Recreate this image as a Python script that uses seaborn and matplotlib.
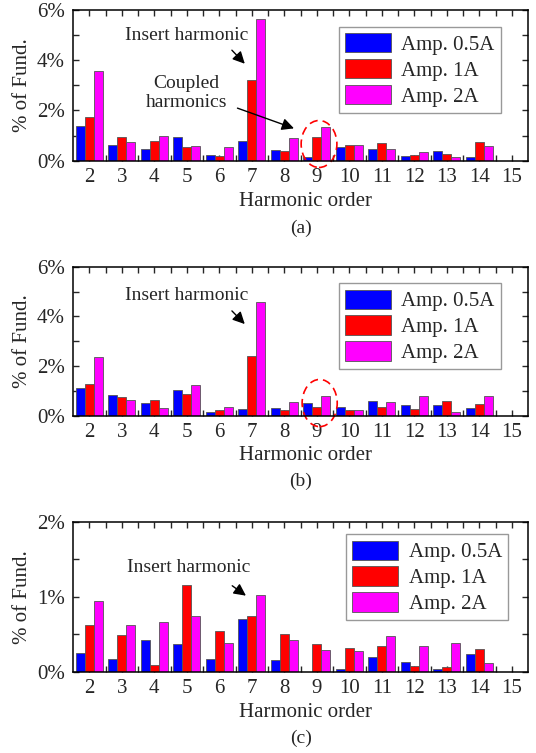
import numpy as np
import pandas as pd
import matplotlib
matplotlib.use('Agg')
import matplotlib.pyplot as plt
from matplotlib.ticker import MultipleLocator, FixedLocator, FuncFormatter
from matplotlib.patches import Ellipse
import seaborn as sns

# harmonic orders shown on the x axis (15 has no bars)
orders = ['2', '3', '4', '5', '6', '7', '8', '9', '10', '11', '12', '13', '14', '15']
harmonics = ['2', '3', '4', '5', '6', '7', '8', '9', '10', '11', '12', '13', '14']
amps = ['Amp. 0.5A', 'Amp. 1A', 'Amp. 2A']
colors = ['#0000ff', '#ff0000', '#ff00ff']

# (a)
a_05 = [1.38, 0.61, 0.48, 0.93, 0.21, 0.80, 0.44, 0.15, 0.56, 0.45, 0.20, 0.40, 0.15]
a_1 = [1.73, 0.94, 0.77, 0.56, 0.17, 3.20, 0.39, 0.94, 0.61, 0.72, 0.23, 0.27, 0.76]
a_2 = [3.57, 0.73, 0.97, 0.60, 0.55, 5.63, 0.92, 1.34, 0.61, 0.45, 0.36, 0.13, 0.60]
# (b)
b_05 = [1.10, 0.82, 0.52, 1.05, 0.15, 0.28, 0.31, 0.50, 0.34, 0.58, 0.44, 0.44, 0.30]
b_1 = [1.26, 0.75, 0.64, 0.89, 0.23, 2.39, 0.23, 0.36, 0.21, 0.35, 0.27, 0.59, 0.46]
b_2 = [2.36, 0.64, 0.31, 1.23, 0.36, 4.59, 0.55, 0.79, 0.23, 0.54, 0.79, 0.15, 0.79]
# (c)
c_05 = [0.25, 0.17, 0.42, 0.37, 0.17, 0.70, 0.16, 0.00, 0.04, 0.19, 0.13, 0.03, 0.24]
c_1 = [0.63, 0.49, 0.09, 1.16, 0.54, 0.74, 0.50, 0.37, 0.32, 0.34, 0.08, 0.06, 0.30]
c_2 = [0.95, 0.62, 0.67, 0.75, 0.39, 1.02, 0.42, 0.29, 0.27, 0.48, 0.34, 0.38, 0.11]

sns.set_style('ticks')
plt.rcParams['font.family'] = ['Liberation Serif', 'DejaVu Serif']
plt.rcParams['font.size'] = 15


def make_df(v05, v1, v2):
    rows = []
    for amp, vals in zip(amps, [v05, v1, v2]):
        for h, v in zip(harmonics, vals):
            rows.append({'order': h, 'amp': amp, 'value': v})
    return pd.DataFrame(rows)


fig = plt.figure(figsize=(5.36, 7.53), dpi=100)
W, H = 536, 753


def panel(top, bottom, v05, v1, v2, ymax, major, minor, leg_xy, caption, cap_y):
    ax = fig.add_axes([73 / W, (H - bottom) / H, 455 / W, (bottom - top) / H])
    df = make_df(v05, v1, v2)
    sns.barplot(data=df, x='order', y='value', hue='amp', order=orders, hue_order=amps,
                palette=colors, saturation=1, width=0.83, errorbar=None,
                edgecolor='#555555', linewidth=0.6, ax=ax)
    ax.set_xlim(-0.5, 13.5)
    ax.set_ylim(0, ymax)
    ax.yaxis.set_major_locator(MultipleLocator(major))
    ax.yaxis.set_minor_locator(MultipleLocator(minor))
    ax.yaxis.set_major_formatter(FuncFormatter(lambda v, p: f'{v:.0f}%'))
    ax.xaxis.set_minor_locator(FixedLocator(np.arange(0.5, 13, 1)))
    ax.tick_params(which='both', direction='in', top=True, right=True,
                   length=4, width=1, labelsize=15)
    ax.tick_params(axis='x', pad=5)
    ax.tick_params(axis='y', pad=6)
    for s in ax.spines.values():
        s.set_linewidth(1.1)
        s.set_color('black')
    ax.set_xlabel('Harmonic order', fontsize=15)
    ax.xaxis.set_label_coords(0.512, -0.27)
    ax.xaxis.label.set_va('center')
    ax.set_ylabel('% of Fund.', fontsize=15)
    ax.yaxis.set_label_coords(-0.112, 0.5)
    ax.yaxis.label.set_va('center')
    ax.legend(loc='upper right', bbox_to_anchor=leg_xy, borderaxespad=0,
              fancybox=False, edgecolor='#999999', framealpha=1, fontsize=15,
              handlelength=2.2, handleheight=1.05, labelspacing=0.2,
              handletextpad=0.5, borderpad=0.3)
    fig.text(301 / W, (H - cap_y) / H, caption, ha='center', va='center', fontsize=14)
    return ax


arrow = dict(arrowstyle='-|>', color='black', lw=1, mutation_scale=18)
dash = (0, (5, 3))

ax1 = panel(10, 160.7, a_05, a_1, a_2, 6, 2, 1, (0.9407, 0.889), '(a)', 228)
ax1.annotate('', xy=(4.845, 3.78), xytext=(4.33, 4.48), arrowprops=arrow)
ax1.text(3.0, 5.0, 'Insert harmonic', ha='center', va='center', fontsize=14)
ax1.text(2.98, 2.69, 'Coupled\nharmonics', ha='center', va='center', fontsize=14,
         linespacing=1.2)
ax1.annotate('', xy=(6.38, 1.25), xytext=(4.48, 2.13), arrowprops=arrow)
ax1.add_patch(Ellipse((7.07, 0.665), 1.1, 1.87, fill=False, edgecolor='#ff0000',
                      linestyle=dash, lw=1.2, clip_on=False))

ax2 = panel(266.7, 415.7, b_05, b_1, b_2, 6, 2, 1, (0.940, 0.8886), '(b)', 481.7)
ax2.annotate('', xy=(4.845, 3.61), xytext=(4.33, 4.30), arrowprops=arrow)
ax2.text(3.0, 4.86, 'Insert harmonic', ha='center', va='center', fontsize=14)
ax2.add_patch(Ellipse((7.09, 0.51), 1.08, 1.9, fill=False, edgecolor='#ff0000',
                      linestyle=dash, lw=1.2, clip_on=False))

ax3 = panel(522, 671.7, c_05, c_1, c_2, 2, 1, 0.5, (0.9567, 0.918), '(c)', 738)
ax3.annotate('', xy=(4.89, 0.994), xytext=(4.33, 1.17), arrowprops=arrow)
ax3.text(3.05, 1.395, 'Insert harmonic', ha='center', va='center', fontsize=14)

fig.savefig('out.png', dpi=100)
